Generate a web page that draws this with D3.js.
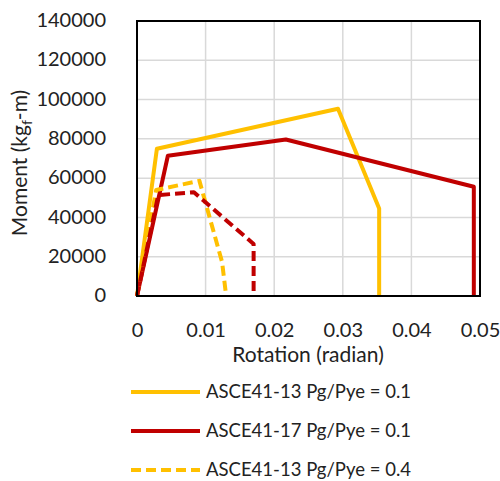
<!DOCTYPE html>
<html>
<head>
<meta charset="utf-8">
<script src="https://cdn.jsdelivr.net/npm/d3@7"></script>
<style>
  html, body { margin: 0; padding: 0; background: #fff; }
  svg { display: block; font-family: Lato, "Noto Sans", sans-serif; }
</style>
</head>
<body>
<svg id="chart" width="500" height="481"></svg>
<script>
// Moment–rotation backbone curves (rotation in radian, moment in kgf-m)
const asce13_01 = [[0, 0], [0.0029, 75000], [0.0293, 95300], [0.0353, 44600], [0.0353, 0]];
const asce17_01 = [[0, 0], [0.0045, 71400], [0.0217, 79700], [0.0491, 55600], [0.0491, 0]];
const asce13_04 = [[0, 0], [0.0028, 54000], [0.0091, 58600], [0.0124, 17300], [0.0130, 0]];
const asce17_04 = [[0, 0], [0.0031, 51400], [0.0083, 52800], [0.0170, 26500], [0.0170, 0]];

const seriesNames = [
  "ASCE41-13 Pg/Pye = 0.1",
  "ASCE41-17 Pg/Pye = 0.1",
  "ASCE41-13 Pg/Pye = 0.4",
  "ASCE41-17 Pg/Pye = 0.4"
];
const xTicks = [0, 0.01, 0.02, 0.03, 0.04, 0.05];
const yTicks = [0, 20000, 40000, 60000, 80000, 100000, 120000, 140000];

const series = [
  { name: seriesNames[0], data: asce13_01, color: "#FFC000", dash: null },
  { name: seriesNames[1], data: asce17_01, color: "#C00000", dash: null },
  { name: seriesNames[2], data: asce13_04, color: "#FFC000", dash: "10,5" },
  { name: seriesNames[3], data: asce17_04, color: "#C00000", dash: "10,5" }
];

const svg = d3.select("#chart");
const plot = { left: 137, right: 480, top: 21, bottom: 296 };
const font = "Lato, sans-serif";

const x = d3.scaleLinear().domain([0, 0.05]).range([plot.left, plot.right]);
const y = d3.scaleLinear().domain([0, 140000]).range([plot.bottom, plot.top]);

// Grid
const grid = svg.append("g");
grid.selectAll("line.v").data(xTicks.slice(1, -1)).join("line")
  .attr("x1", d => x(d)).attr("x2", d => x(d))
  .attr("y1", plot.top).attr("y2", plot.bottom)
  .attr("stroke", "#d9d9d9").attr("stroke-width", 1.5);
grid.selectAll("line.h").data(yTicks.slice(1, -1)).join("line")
  .attr("x1", plot.left).attr("x2", plot.right)
  .attr("y1", d => y(d)).attr("y2", d => y(d))
  .attr("stroke", "#d9d9d9").attr("stroke-width", 1.5);

// Axes (labels only, the frame is drawn separately)
const yAxis = svg.append("g")
  .attr("transform", `translate(${plot.left - 31},0)`)
  .call(d3.axisLeft(y).tickValues(yTicks).tickSize(0).tickPadding(0).tickFormat(d3.format("d")));
yAxis.select(".domain").remove();
yAxis.selectAll("text")
  .attr("font-size", 20).attr("fill", "#222").attr("font-family", font)
  .attr("dy", "0.28em");

const xAxis = svg.append("g")
  .attr("transform", `translate(0,${plot.bottom + 27})`)
  .call(d3.axisBottom(x).tickValues(xTicks).tickSize(0).tickPadding(0).tickFormat(d => d === 0 ? "0" : d3.format(".2f")(d)));
xAxis.select(".domain").remove();
xAxis.selectAll("text")
  .attr("font-size", 20).attr("fill", "#222").attr("font-family", font)
  .attr("dy", "0.71em");

// Series lines
const line = d3.line().x(d => x(d[0])).y(d => y(d[1]));
svg.append("g").selectAll("path").data(series).join("path")
  .attr("d", d => line(d.data))
  .attr("fill", "none")
  .attr("stroke", d => d.color)
  .attr("stroke-width", 4)
  .attr("stroke-linejoin", "round")
  .attr("stroke-dasharray", d => d.dash);

// Plot frame
svg.append("rect")
  .attr("x", plot.left).attr("y", plot.top)
  .attr("width", plot.right - plot.left).attr("height", plot.bottom - plot.top)
  .attr("fill", "none").attr("stroke", "#000").attr("stroke-width", 2);

// Axis titles
svg.append("text")
  .attr("x", 308).attr("y", 362)
  .attr("text-anchor", "middle").attr("font-size", 21).attr("fill", "#222")
  .text("Rotation (radian)");

const yt = svg.append("text")
  .attr("transform", "translate(27,163) rotate(-90)")
  .attr("text-anchor", "middle").attr("font-size", 21).attr("fill", "#222");
yt.append("tspan").text("Moment (kg");
yt.append("tspan").attr("font-size", 14).attr("dy", 5).text("f");
yt.append("tspan").attr("dy", -5).text("-m)");

// Legend (the last entry falls below the visible area)
const legend = svg.append("g");
const rows = legend.selectAll("g").data(series.slice(0, 3)).join("g")
  .attr("transform", (d, i) => `translate(0,${392 + i * 39})`);
rows.append("line")
  .attr("x1", 131).attr("x2", 200).attr("y1", 0).attr("y2", 0)
  .attr("stroke", d => d.color).attr("stroke-width", 4)
  .attr("stroke-dasharray", d => d.dash);
rows.append("text")
  .attr("x", 206).attr("y", 0).attr("dy", "0.35em")
  .attr("font-size", 18.5).attr("fill", "#222")
  .text(d => d.name);
</script>
</body>
</html>
